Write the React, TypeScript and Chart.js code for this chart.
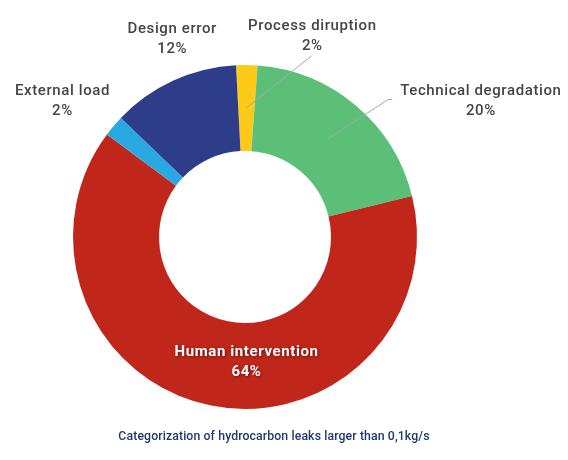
import React, { useEffect, useRef } from "react";
import { Chart, registerables } from "chart.js";

Chart.register(...registerables);

const categories = ["Process diruption", "Technical degradation", "Human intervention", "External load", "Design error"];
const shares = [2, 20, 64, 2, 12];
const sliceColors = ["#FDCA17", "#5CBF78", "#C1261A", "#29A8E2", "#2E3D8A"];
const chartTitle = "Categorization of hydrocarbon leaks larger than 0,1kg/s";

// label placement relative to the slice centroid (layout only)
type LabelCfg = { dx: number; dy: number; align: CanvasTextAlign; inside?: boolean; line?: number[] };
const labelCfg: LabelCfg[] = [
  { dx: 66, dy: -82, align: "center", line: [65, -52] },
  { dx: 72, dy: -47, align: "left", line: [60, -39, 64, -39] },
  { dx: 27, dy: -11, align: "center", inside: true },
  { dx: -84, dy: -62, align: "center" },
  { dx: -19, dy: -90, align: "center" },
];

const labelPlugin = {
  id: "sliceLabels",
  afterDraw(chart: any) {
    const ctx: CanvasRenderingContext2D = chart.ctx;
    const meta = chart.getDatasetMeta(0);
    ctx.save();
    meta.data.forEach((arc: any, i: number) => {
      const p = arc.tooltipPosition();
      const cfg = labelCfg[i];
      if (cfg.line) {
        ctx.strokeStyle = "#a8a8a8";
        ctx.lineWidth = 1;
        ctx.beginPath();
        ctx.moveTo(p.x, p.y);
        for (let k = 0; k < cfg.line.length; k += 2) ctx.lineTo(p.x + cfg.line[k], p.y + cfg.line[k + 1]);
        ctx.stroke();
      }
      let x = p.x + cfg.dx;
      const y = p.y + cfg.dy;
      if (cfg.inside) {
        ctx.font = "bold 15px Roboto";
        (ctx as any).letterSpacing = "0.6px";
        ctx.fillStyle = "#ffffff";
        ctx.shadowColor = "rgba(0,0,0,0.45)";
        ctx.shadowBlur = 3;
        ctx.shadowOffsetX = 1;
        ctx.shadowOffsetY = 1;
      } else {
        ctx.font = "500 15px Roboto";
        (ctx as any).letterSpacing = "0.6px";
        ctx.fillStyle = "#454545";
        ctx.shadowColor = "transparent";
        ctx.shadowBlur = 0;
      }
      if (cfg.align === "left") {
        x += ctx.measureText(categories[i]).width / 2;
      }
      ctx.textAlign = "center";
      ctx.textBaseline = "middle";
      ctx.fillText(categories[i], x, y);
      ctx.fillText(shares[i] + "%", x, y + 20);
    });
    ctx.shadowColor = "transparent";
    ctx.shadowBlur = 0;
    ctx.font = "500 12.3px Roboto";
    (ctx as any).letterSpacing = "0.1px";
    ctx.fillStyle = "#1D3A6E";
    ctx.textAlign = "center";
    ctx.fillText(chartTitle, 274, 437);
    ctx.restore();
  },
};

export default function App() {
  const ref = useRef<HTMLCanvasElement>(null);
  useEffect(() => {
    const chart = new Chart(ref.current!, {
      type: "doughnut",
      data: {
        labels: categories,
        datasets: [{ data: shares, backgroundColor: sliceColors, borderWidth: 0 }],
      },
      options: {
        animation: false,
        responsive: false,
        rotation: -3,
        cutout: "50%",
        layout: { padding: { top: 65, bottom: 51, left: 73, right: 151 } },
        plugins: { legend: { display: false }, tooltip: { enabled: false }, title: { display: false } },
      },
      plugins: [labelPlugin],
    });
    return () => chart.destroy();
  }, []);
  return (
    <div style={{ position: "fixed", left: 0, top: 0, width: 568, height: 460, background: "#fff" }}>
      <canvas ref={ref} width={568} height={460} style={{ width: 568, height: 460 }} />
    </div>
  );
}
